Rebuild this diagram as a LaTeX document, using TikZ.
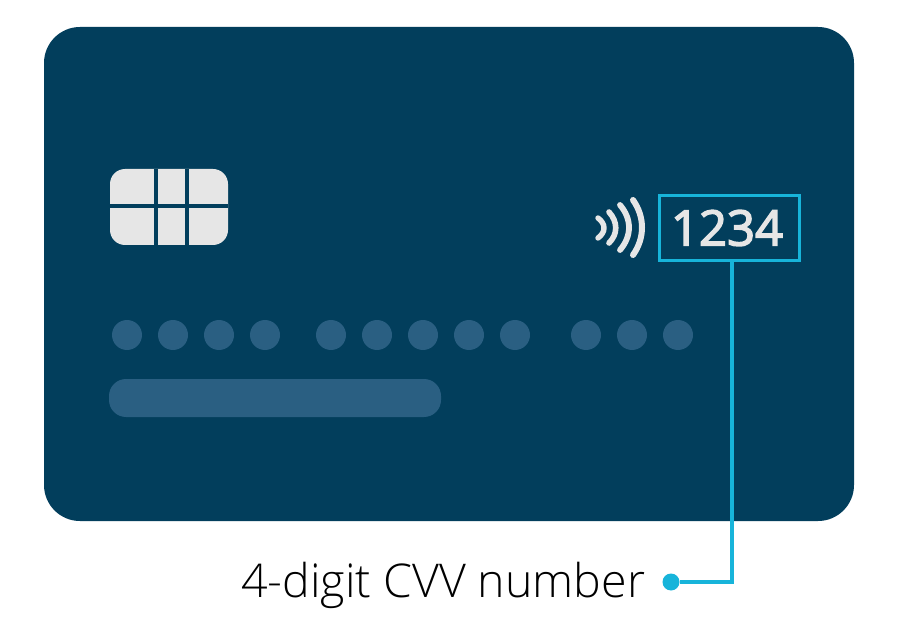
\documentclass[tikz,border=0pt]{standalone}
\usepackage{fontspec}
\setmainfont{Open Sans Light}
\newfontfamily\numfont[FakeBold=3]{Open Sans}
\definecolor{cardblue}{HTML}{023E5C}
\definecolor{dotblue}{HTML}{2A5F82}
\definecolor{chipgrey}{HTML}{E6E6E6}
\definecolor{accent}{HTML}{17B4DA}
\tikzset{
  carddot/.style={circle,fill=dotblue,minimum size=30pt,inner sep=0pt},
  wave/.style={draw=chipgrey,line cap=round},
  leader/.style={draw=accent,line width=3.1pt},
}
\begin{document}
\begin{tikzpicture}[x=1pt,y=-1pt]
\useasboundingbox (0,0) rectangle (897,644);
\fill[white] (0,0) rectangle (897,644);
\node[draw=none,fill=cardblue,rounded corners=36pt,minimum width=810pt,minimum height=494pt,inner sep=0pt] (card) at (449,274) {};
% chip
\node[fill=chipgrey,rounded corners=15pt,minimum width=118pt,minimum height=76pt,inner sep=0pt] (chip) at (169,207) {};
\fill[cardblue] (154,169) rectangle (158,245);
\fill[cardblue] (185,169) rectangle (189,245);
\fill[cardblue] (110,204) rectangle (228,208);
% contactless waves
\draw[wave,line width=5.4pt] (598,218) .. controls (606,224) and (606,232) .. (598,238);
\draw[wave,line width=5.6pt] (609,212) .. controls (618,222) and (618,234) .. (609,243);
\draw[wave,line width=5.8pt] (620,205) .. controls (632,219) and (632,236) .. (620,250);
\draw[wave,line width=6pt] (633,200) .. controls (645,217) and (645,238) .. (633,255);
% number box
\node[draw=accent,line width=3.1pt,minimum width=140pt,minimum height=65pt,inner sep=0pt,text=chipgrey,font=\numfont\fontsize{49}{49}\selectfont] (cvv) at (729.5,228) {\kern-5pt 1234};
% dots
\foreach \n/\x in {a/127,b/173,c/219,d/265,e/331,f/377,g/423,h/469,i/515,j/586,k/632,l/678}
  \node[carddot] (dot\n) at (\x,335) {};
% bar
\node[fill=dotblue,rounded corners=17pt,minimum width=332pt,minimum height=38pt,inner sep=0pt] (bar) at (275,398) {};
% label
\node[text=black,anchor=base west,inner sep=0pt,font=\fontsize{46.5}{46.5}\selectfont] (label) at (241,597) {4-digit CVV number};
\node[circle,fill=accent,minimum size=17pt,inner sep=0pt] (end) at (671,582) {};
\coordinate (elbow) at (732,582);
\draw[leader] (cvv.south -| elbow) -- (elbow) -- (end);
\end{tikzpicture}
\end{document}
